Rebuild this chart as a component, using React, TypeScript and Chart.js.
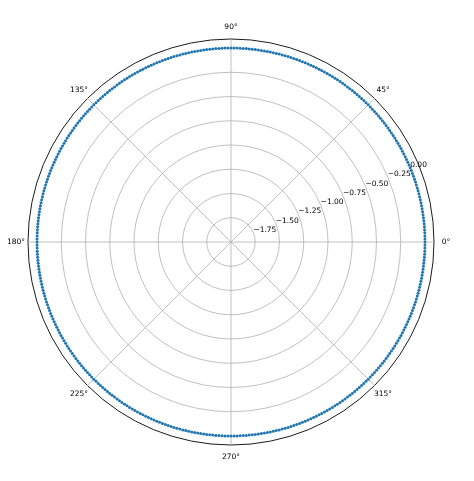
import React, { useEffect, useRef } from "react";
import { Chart, registerables } from "chart.js";

Chart.register(...registerables);

// Radius of every sample (all points sit on the r = 0.00 ring)
const rValues: number[] = [
  0,0,0,0,0,0,0,0,0,0,0,0,0,0,0,0,0,0,0,0,0,0,0,0,0,0,0,0,0,0,0,0,0,0,0,0,0,0,0,0,
  0,0,0,0,0,0,0,0,0,0,0,0,0,0,0,0,0,0,0,0,0,0,0,0,0,0,0,0,0,0,0,0,0,0,0,0,0,0,0,0,
  0,0,0,0,0,0,0,0,0,0,0,0,0,0,0,0,0,0,0,0,0,0,0,0,0,0,0,0,0,0,0,0,0,0,0,0,0,0,0,0,
  0,0,0,0,0,0,0,0,0,0,0,0,0,0,0,0,0,0,0,0,0,0,0,0,0,0,0,0,0,0,0,0,0,0,0,0,0,0,0,0,
  0,0,0,0,0,0,0,0,0,0,0,0,0,0,0,0,0,0,0,0,0,0,0,0,0,0,0,0,0,0,0,0,0,0,0,0,0,0,0,0,
  0,0,0,0,0,0,0,0,0,0,0,0,0,0,0,0,0,0,0,0,0,0,0,0,0,0,0,0,0,0,0,0,0,0,0,0,0,0,0,0,
  0,0,0,0,0,0,0,0,0,0,0,0,0,0,0,0,0,0,0,0,0,0,0,0,0,0,0,0,0,0,0,0,0,0,0,0,0,0,0,0,
  0,0,0,0,0,0,0,0,0,0,0,0,0,0,0,0,0,0,0,0,0,0,0,0,0,0,0,0,0,0,0,0,0,0,0,0,0,0,0,0,
  0,0,0,0,0,0,0,0,0,0,0,0,0,0,0,0,0,0,0,0,0,0,0,0,0,0,0,0,0,0,0,0,0,0,0,0,0,0,0,0,
  0,0,0,0,0,0,0,0,0,0,0,0,0,0,0,0,0,0,0,0,0,0,0,0,0,0,0,0,0,0,0,0,0,0,0,0,0,0,0,0,
];

// Angular sample positions (degrees), evenly spaced around the circle
const thetaLabels: string[] = rValues.map((_, i) => String(i * (360 / rValues.length)));

// Angle tick labels (degrees)
const angleTicks: number[] = [0, 45, 90, 135, 180, 225, 270, 315];

// Radial tick values
const radialTicks: number[] = [-1.75, -1.5, -1.25, -1.0, -0.75, -0.5, -0.25, 0.0];
const radialMin = -2.0;
const radialMax = 0.093;
const radialLabelAngle = 22.5;

const FONT = '7.5px "DejaVu Sans"';

const fmt = (v: number) => v.toFixed(2).replace("-", "\u2212");

export default function App() {
  const ref = useRef<HTMLCanvasElement | null>(null);

  useEffect(() => {
    if (!ref.current) return;
    const N = rValues.length;

    const labelsPlugin = {
      id: "polarLabels",
      afterDraw(chart: any) {
        const scale = chart.scales.r;
        const ctx = chart.ctx;
        ctx.save();
        ctx.font = FONT;
        ctx.fillStyle = "#000";
        // angle labels
        ctx.textAlign = "center";
        ctx.textBaseline = "middle";
        const dist = scale.drawingArea + 12;
        angleTicks.forEach((a) => {
          const idx = Math.round((N - (a / 360) * N)) % N;
          const p = scale.getPointPosition(idx, dist);
          ctx.fillText(a + "\u00b0", p.x, p.y);
        });
        // radial labels
        ctx.textAlign = "left";
        ctx.textBaseline = "bottom";
        const rad = (radialLabelAngle * Math.PI) / 180;
        radialTicks.forEach((v) => {
          const d = scale.getDistanceFromCenterForValue(v);
          const x = scale.xCenter + d * Math.cos(rad);
          const y = scale.yCenter - d * Math.sin(rad);
          ctx.fillText(fmt(v), x, y + 1);
        });
        ctx.restore();
      },
    };

    const chart = new Chart(ref.current, {
      type: "radar",
      data: {
        labels: thetaLabels,
        datasets: [
          {
            data: rValues,
            showLine: false,
            borderWidth: 0,
            pointRadius: 1.5,
            pointBorderWidth: 0,
            pointBackgroundColor: "#1f77b4",
            pointBorderColor: "#1f77b4",
            fill: false,
          },
        ],
      },
      options: {
        animation: false,
        responsive: true,
        maintainAspectRatio: false,
        layout: { padding: { left: 20, right: 32, top: 31, bottom: 28 } },
        plugins: {
          legend: { display: false },
          tooltip: { enabled: false },
        },
        elements: { line: { borderWidth: 0 } },
        scales: {
          r: {
            min: radialMin,
            max: radialMax,
            startAngle: 90,
            beginAtZero: false,
            afterBuildTicks: (scale: any) => {
              scale.ticks = [radialMin, ...radialTicks, radialMax].map((v) => ({ value: v }));
            },
            ticks: { display: false },
            pointLabels: { display: false },
            grid: {
              circular: true,
              color: (c: any) =>
                c.tick && Math.abs(c.tick.value - radialMax) < 1e-6 ? "#1a1a1a" : "#b0b0b0",
              lineWidth: (c: any) =>
                c.tick && Math.abs(c.tick.value - radialMax) < 1e-6 ? 1 : 0.8,
            },
            angleLines: {
              display: true,
              color: (c: any) => (c.index % (N / 8) === 0 ? "#b0b0b0" : "rgba(0,0,0,0)"),
              lineWidth: 0.8,
            },
          },
        },
      },
      plugins: [labelsPlugin],
    });
    return () => chart.destroy();
  }, []);

  return (
    <div style={{ width: 458, height: 465, position: "relative" }}>
      <canvas ref={ref} />
    </div>
  );
}
